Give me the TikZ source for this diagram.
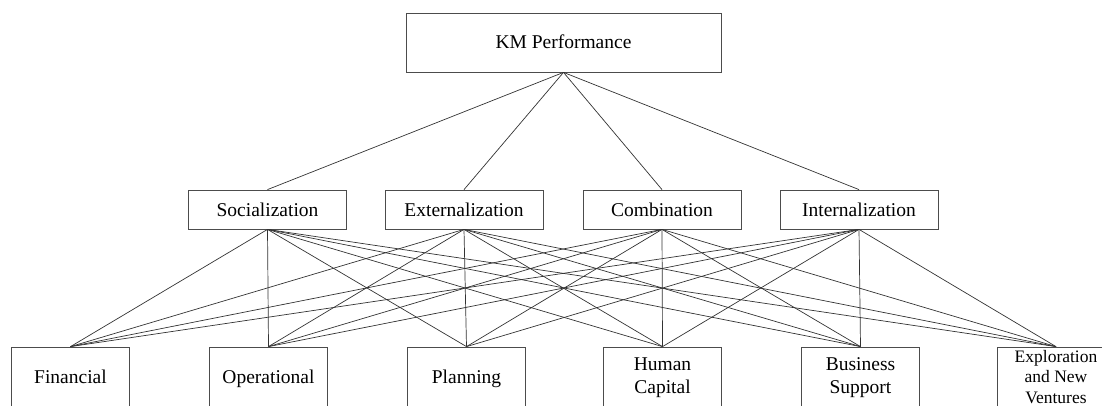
\documentclass[tikz,border=0pt]{standalone}
\usepackage{fontspec}
\setmainfont{Liberation Serif}
\begin{document}
\begin{tikzpicture}[x=1pt,y=-1pt,
  box/.style={draw=black!70,line width=0.8pt,inner sep=0pt,align=center,text=black,
    font=\fontsize{19.5}{23}\selectfont,text height=13pt,text depth=0pt},
  topbox/.style={box,minimum width=315pt,minimum height=59pt},
  midbox/.style={box,minimum width=158pt,minimum height=39pt},
  botbox/.style={box,minimum width=118pt,minimum height=60pt},
  lbl/.style={inner sep=0pt,align=center,text=black,anchor=north,
    font=\fontsize{19.5}{23}\selectfont},
  link/.style={draw=black!80,line width=0.7pt}]
\useasboundingbox (0,0) rectangle (1102,406);
\node[topbox] (km) at (563.5,42.5) {KM Performance};
\node[midbox] (m1) at (267.5,209.5) {Socialization};
\node[midbox] (m2) at (464,209.5) {Externalization};
\node[midbox] (m3) at (662,209.5) {Combination};
\node[midbox] (m4) at (859,209.5) {Internalization};
\node[botbox] (b1) at (70.5,377) {Financial};
\node[botbox] (b2) at (268.5,377) {Operational};
\node[botbox] (b3) at (466.5,377) {Planning};
\node[botbox] (b4) at (662.5,377) {};
\node[botbox] (b5) at (860.5,377) {};
\node[botbox] (b6) at (1056,377) {};
\node[lbl] (b4t) at (662.5,357.5) {Human\\Capital};
\node[lbl] (b5t) at (860.5,357.5) {Business\\Support};
\node[lbl,font=\fontsize{17.5}{20.5}\selectfont] (b6t) at (1056,350) {Exploration\\and New\\Ventures};
\foreach \m in {m1,m2,m3,m4}{
  \draw[link] (km.south) -- (\m.north);
  \foreach \b in {b1,b2,b3,b4,b5,b6}{
    \draw[link] (\m.south) -- (\b.north);
  }
}
\end{tikzpicture}
\end{document}
